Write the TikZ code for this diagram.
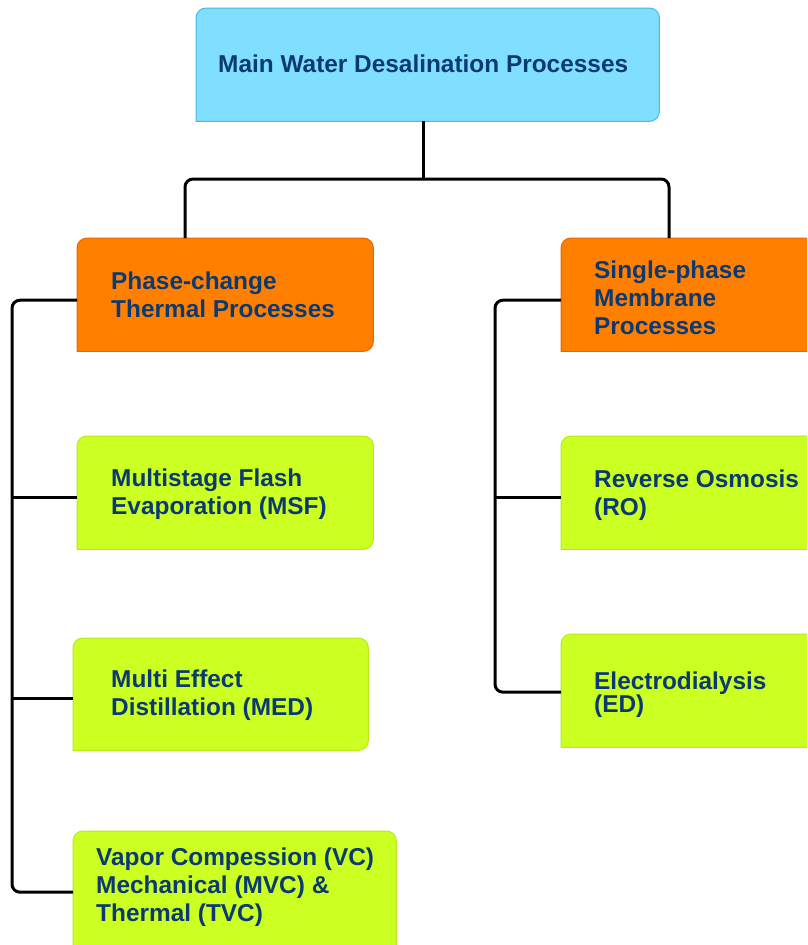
\documentclass[tikz,border=0pt]{standalone}
\usepackage{fontspec}
\setmainfont{Liberation Sans}
\usetikzlibrary{calc}
\definecolor{txtblue}{HTML}{0B3A72}
\definecolor{cyanfill}{HTML}{80DFFF}
\definecolor{cyanline}{HTML}{4CB6E6}
\definecolor{orangefill}{HTML}{FF8000}
\definecolor{orangeline}{HTML}{E8650A}
\definecolor{greenfill}{HTML}{CCFF22}
\definecolor{greenline}{HTML}{B8EA1A}
\newcommand\boxshape[3]{\path[fill=#2,draw=#3,line width=1pt] (#1.south west) [rounded corners=10pt] -- (#1.north west) -- (#1.north east) -- (#1.south east) [sharp corners] -- cycle;}
\begin{document}
\begin{tikzpicture}[x=1pt,y=-1pt,
  boxnode/.style={rectangle, draw=none, anchor=north west, inner sep=0pt},
  txt/.style={anchor=west, align=left, inner sep=0pt, text=txtblue, font=\bfseries\fontsize{24.4}{28}\selectfont},
  conn/.style={draw=black, line width=3pt, rounded corners=8pt}
]
\clip (0,0) rectangle (807,945);
\fill[white] (0,0) rectangle (807,945);
% box nodes
\node[boxnode, minimum width=463pt, minimum height=113pt] (main) at (196,8) {};
\node[boxnode, minimum width=296pt, minimum height=113pt] (phase) at (77,238) {};
\node[boxnode, minimum width=270pt, minimum height=113pt] (single) at (561,238) {};
\node[boxnode, minimum width=296pt, minimum height=113pt] (msf) at (77,436) {};
\node[boxnode, minimum width=295pt, minimum height=112pt] (med) at (73,638) {};
\node[boxnode, minimum width=323pt, minimum height=130pt] (vc) at (73,831) {};
\node[boxnode, minimum width=270pt, minimum height=113pt] (ro) at (561,436) {};
\node[boxnode, minimum width=270pt, minimum height=113pt] (ed) at (561,634) {};
% box shapes
\boxshape{main}{cyanfill}{cyanline}
\boxshape{phase}{orangefill}{orangeline}
\boxshape{single}{orangefill}{orangeline}
\boxshape{msf}{greenfill}{greenline}
\boxshape{med}{greenfill}{greenline}
\boxshape{vc}{greenfill}{greenline}
\boxshape{ro}{greenfill}{greenline}
\boxshape{ed}{greenfill}{greenline}
% connector coordinates
\coordinate (j) at (423,179);
\coordinate (lx) at (185,0);
\coordinate (rx) at (669,0);
\coordinate (ls) at (12,0);
\coordinate (rs) at (495,0);
\coordinate (pw) at ([yshift=-5.5pt]phase.west);
\coordinate (msfw) at ([yshift=-4.5pt]msf.west);
\coordinate (medw) at ([yshift=-4pt]med.west);
\coordinate (vcw) at ([yshift=4pt]vc.west);
\coordinate (sw) at ([yshift=-5.5pt]single.west);
\coordinate (row) at ([yshift=-4.5pt]ro.west);
\coordinate (edw) at ([yshift=-1.5pt]ed.west);
% connectors
\draw[conn] (main.south -| j) -- (j);
\draw[conn] (phase.north -| lx) |- (j) -| (single.north -| rx);
\draw[conn] (pw) -| (ls |- vcw) -- (vcw);
\draw[conn] (ls |- msfw) -- (msfw);
\draw[conn] (ls |- medw) -- (medw);
\draw[conn] (sw) -| (rs |- edw) -- (edw);
\draw[conn] (rs |- row) -- (row);
% texts
\node[txt] (main-t) at (218,64) {Main Water Desalination Processes};
\node[txt] (phase-t) at (111,295) {Phase-change\\Thermal Processes};
\node[txt] (single-t) at (594,297.5) {Single-phase\\Membrane\\Processes};
\node[txt] (msf-t) at (111,494) {Multistage Flash\\Evaporation (MSF)};
\node[txt] (med-t) at (111,695) {Multi Effect\\Distillation (MED)};
\node[txt] (vc-t) at (96,887.5) {Vapor Compession (VC)\\Mechanical (MVC) \&\\Thermal (TVC)};
\node[txt] (ro-t) at (594,495.5) {Reverse Osmosis\\(RO)};
\node[txt] (ed-t) at (594,695) {Electrodialysis\\[-5pt](ED)};
\end{tikzpicture}
\end{document}
